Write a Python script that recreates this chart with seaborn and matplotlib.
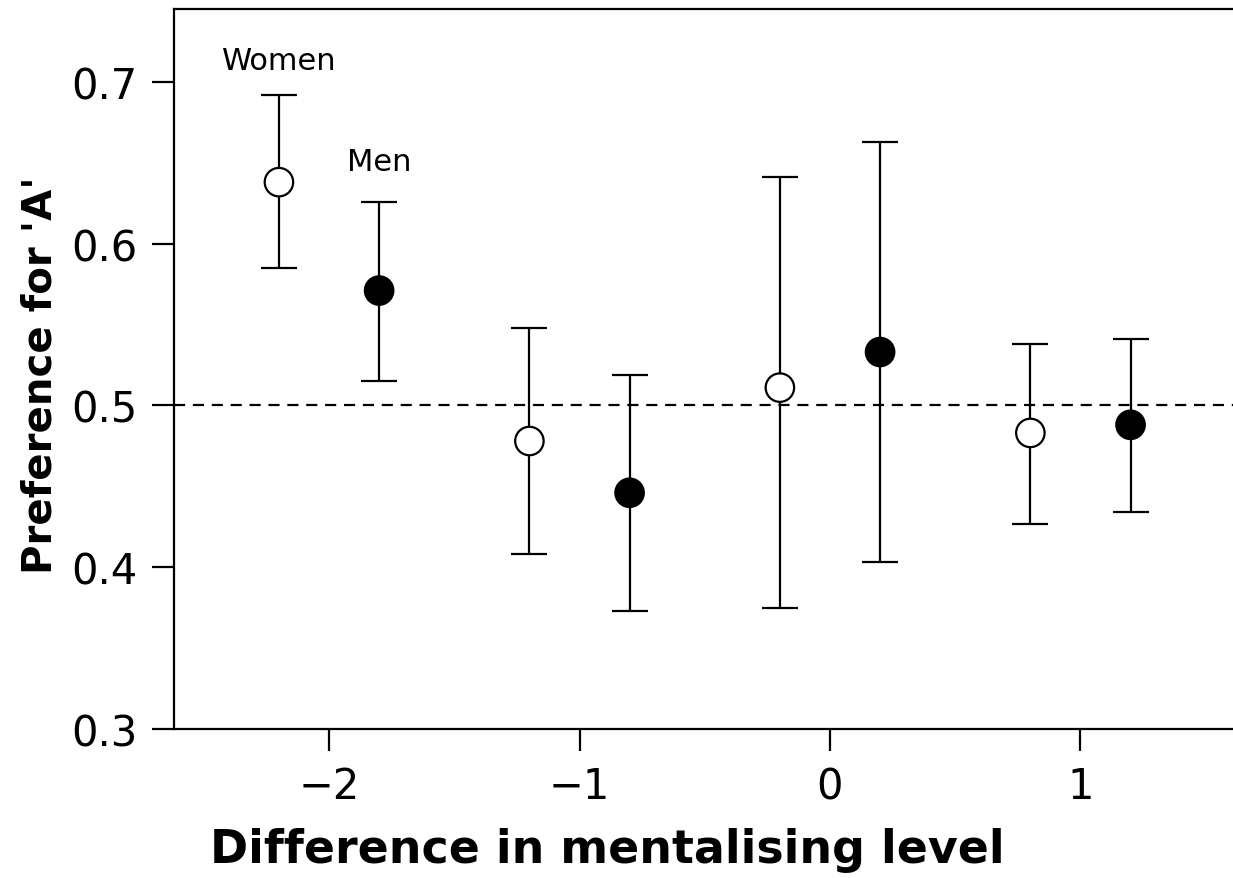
import pandas as pd
import matplotlib
matplotlib.use("Agg")
import matplotlib.pyplot as plt
import seaborn as sns
import numpy as np

# values
women_x = [-2.2, -1.2, -0.2, 0.8]
women_mean = [0.638, 0.478, 0.511, 0.483]
women_low = [0.585, 0.408, 0.375, 0.427]
women_high = [0.692, 0.548, 0.641, 0.538]

men_x = [-1.8, -0.8, 0.2, 1.2]
men_mean = [0.571, 0.446, 0.533, 0.488]
men_low = [0.515, 0.373, 0.403, 0.434]
men_high = [0.626, 0.519, 0.663, 0.541]

xticks = [-2, -1, 0, 1]
yticks = [0.3, 0.4, 0.5, 0.6, 0.7]

df = pd.DataFrame({
    "diff": women_x + men_x,
    "pref": women_mean + men_mean,
    "low": women_low + men_low,
    "high": women_high + men_high,
    "sex": ["Women"] * 4 + ["Men"] * 4,
})

sns.set_style("ticks")
plt.rcParams["font.family"] = ["DejaVu Sans"]
plt.rcParams["text.color"] = "black"
plt.rcParams["axes.labelcolor"] = "black"

fig = plt.figure(figsize=(12.33, 8.79), dpi=100)
ax = fig.add_axes([0.1411, 0.1695, 1.0 - 0.1411, 0.9886 - 0.1695])

# error bars first, markers on top
for sex, d in df.groupby("sex"):
    ax.errorbar(d["diff"], d["pref"],
                yerr=[d["pref"] - d["low"], d["high"] - d["pref"]],
                fmt="none", ecolor="black", elinewidth=1.6,
                capsize=13, capthick=1.6, zorder=2)

ax.axhline(0.5, color="black", linestyle=(0, (5, 3.5)), linewidth=1.6, zorder=1)

sns.scatterplot(data=df, x="diff", y="pref", hue="sex",
                palette={"Women": "white", "Men": "black"},
                edgecolor="black", linewidth=1.6, s=420,
                legend=False, zorder=3, ax=ax)

ax.text(-2.2, 0.713, "Women", ha="center", va="center", fontsize=22)
ax.text(-1.8, 0.651, "Men", ha="center", va="center", fontsize=22)

ax.set_xlim(-2.619, 1.609)
ax.set_ylim(0.3, 0.745)
ax.set_xticks(xticks)
ax.set_yticks(yticks)
ax.set_xticklabels(["\u22122", "\u22121", "0", "1"])
ax.set_yticklabels(["0.3", "0.4", "0.5", "0.6", "0.7"])
ax.tick_params(axis="both", direction="out", length=16, width=1.6,
               labelsize=30, colors="black")
ax.tick_params(axis="x", pad=10)
ax.tick_params(axis="y", pad=10)

for side in ["left", "bottom", "top"]:
    ax.spines[side].set_visible(True)
    ax.spines[side].set_linewidth(1.6)
    ax.spines[side].set_color("black")
ax.spines["right"].set_visible(False)

ax.set_xlabel("Difference in mentalising level", fontsize=33, fontweight="bold", va="center")
ax.set_ylabel("Preference for 'A'", fontsize=29, fontweight="bold", va="center")
ax.xaxis.set_label_coords(0.409, -0.167)
ax.yaxis.set_label_coords(-0.1265, 0.493)

plt.savefig("out.png", dpi=100)
plt.close()
